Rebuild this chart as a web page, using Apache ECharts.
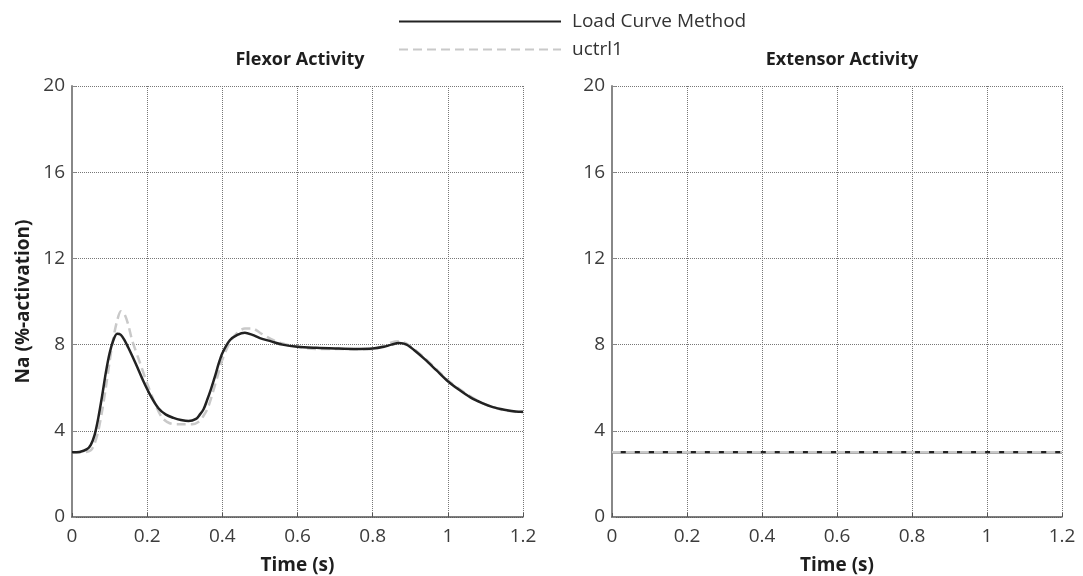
<!DOCTYPE html>
<html>
<head>
<meta charset="utf-8">
<script src="https://cdn.jsdelivr.net/npm/echarts@6/dist/echarts.min.js"></script>
<style>html,body{margin:0;padding:0;background:#fff}#c{width:1083px;height:576px}</style>
</head>
<body>
<div id="c"></div>
<script>
// Flexor activity: Load Curve Method
const flexLoadT = [0,0.02,0.04,0.05,0.06,0.07,0.08,0.09,0.10,0.11,0.12,0.13,0.14,0.15,0.17,0.19,0.21,0.23,0.25,0.27,0.29,0.31,0.33,0.34,0.35,0.36,0.37,0.38,0.39,0.40,0.42,0.44,0.46,0.48,0.50,0.53,0.56,0.60,0.65,0.70,0.75,0.80,0.83,0.85,0.87,0.89,0.91,0.94,0.97,1.00,1.03,1.06,1.09,1.12,1.15,1.18,1.20];
const flexLoadV = [3.0,3.02,3.15,3.35,3.8,4.6,5.6,6.7,7.6,8.2,8.5,8.45,8.2,7.85,7.1,6.3,5.6,5.05,4.75,4.6,4.5,4.45,4.55,4.75,5.0,5.45,5.95,6.5,7.1,7.6,8.2,8.45,8.55,8.45,8.3,8.15,8.0,7.9,7.85,7.82,7.8,7.82,7.9,8.0,8.07,8.0,7.75,7.3,6.8,6.3,5.9,5.55,5.3,5.1,4.98,4.9,4.88];
// Flexor activity: uctrl1
const flexUctrlT = [0,0.03,0.05,0.06,0.07,0.08,0.09,0.10,0.11,0.12,0.13,0.14,0.15,0.16,0.18,0.20,0.22,0.24,0.26,0.28,0.30,0.32,0.34,0.35,0.36,0.37,0.38,0.39,0.40,0.42,0.44,0.46,0.48,0.50,0.53,0.56,0.60,0.65,0.70,0.75,0.80,0.83,0.85,0.87,0.89,0.91,0.94,0.97,1.00,1.03,1.06,1.09,1.12,1.15,1.18,1.20];
const flexUctrlV = [3.0,3.0,3.1,3.4,4.0,4.9,6.0,7.2,8.3,9.1,9.55,9.4,8.9,8.2,7.2,6.2,5.3,4.6,4.35,4.3,4.3,4.3,4.45,4.7,5.0,5.5,6.1,6.7,7.3,8.1,8.55,8.75,8.75,8.55,8.25,8.05,7.9,7.8,7.8,7.78,7.8,7.95,8.1,8.15,8.05,7.8,7.35,6.85,6.35,5.95,5.6,5.3,5.1,4.95,4.88,4.85];
// Extensor activity
const extT = [0, 1.2];
const extLoadV = [3, 3];
const extUctrlV = [3, 3];
// axis ticks
const xTicks = [0, 0.2, 0.4, 0.6, 0.8, 1, 1.2];
const yTicks = [0, 4, 8, 12, 16, 20];

const zip = (a, b) => a.map((x, i) => [x, b[i]]);
const FONT = '"Open Sans", Lato, sans-serif';
const LOAD_COLOR = '#222';
const UCTRL_COLOR = '#c9c9c9';

function xAx(gi) {
  return {
    gridIndex: gi, type: 'value', min: 0, max: 1.2, interval: 0.2,
    name: 'Time (s)', nameLocation: 'middle', nameGap: 39,
    nameTextStyle: {fontFamily: FONT, fontWeight: 'bold', fontSize: 19, color: '#1e1e1e'},
    axisLine: {lineStyle: {color: '#555', width: 1.5}},
    axisTick: {inside: true, length: 4, lineStyle: {color: '#555'}},
    axisLabel: {fontFamily: FONT, fontSize: 19, color: '#3c3c3c', margin: 10,
      formatter: v => String(Math.round(v * 10) / 10)},
    splitLine: {show: true, lineStyle: {type: 'dotted', color: '#777', width: 1}}
  };
}
function yAx(gi, named) {
  return {
    gridIndex: gi, type: 'value', min: 0, max: 20, interval: 4,
    name: named ? 'Na (%-activation)' : '', nameLocation: 'middle', nameGap: 39,
    nameTextStyle: {fontFamily: FONT, fontWeight: 'bold', fontSize: 19, color: '#1e1e1e'},
    axisLine: {show: true, lineStyle: {color: '#888', width: 2}},
    axisTick: {show: true, inside: true, length: 4, lineStyle: {color: '#888'}},
    axisLabel: {fontFamily: FONT, fontSize: 19, color: '#3c3c3c', margin: 7},
    splitLine: {show: true, lineStyle: {type: 'dotted', color: '#777', width: 1}}
  };
}
function loadSeries(xi, data) {
  return {name: 'Load Curve Method', type: 'line', xAxisIndex: xi, yAxisIndex: xi,
    data: data, showSymbol: false, symbol: 'none', smooth: 0.3, z: 3,
    lineStyle: {color: LOAD_COLOR, width: 2.5}, itemStyle: {color: LOAD_COLOR}};
}
function uctrlSeries(xi, data) {
  return {name: 'uctrl1', type: 'line', xAxisIndex: xi, yAxisIndex: xi,
    data: data, showSymbol: false, symbol: 'none', smooth: 0.3, z: 2,
    lineStyle: {color: UCTRL_COLOR, width: 2.5, type: [9, 5]}, itemStyle: {color: UCTRL_COLOR}};
}

const chart = echarts.init(document.getElementById('c'), null, {renderer: 'canvas'});
chart.setOption({
  backgroundColor: '#fff',
  animation: false,
  title: [
    {text: 'Flexor Activity', left: 295, top: 46, textAlign: 'center',
      textStyle: {fontFamily: FONT, fontWeight: 'bold', fontSize: 18, color: '#1e1e1e'}},
    {text: 'Extensor Activity', left: 837, top: 46, textAlign: 'center',
      textStyle: {fontFamily: FONT, fontWeight: 'bold', fontSize: 18, color: '#1e1e1e'}}
  ],
  legend: {
    orient: 'vertical', left: 393, top: 7, itemWidth: 162, itemHeight: 14, itemGap: 9,
    data: ['Load Curve Method', 'uctrl1'],
    itemStyle: {opacity: 0},
    textStyle: {fontFamily: FONT, fontSize: 19, color: '#333', padding: [0, 0, 0, 6]}
  },
  grid: [
    {left: 72, top: 86, width: 451, height: 431, containLabel: false, outerBoundsMode: 'none'},
    {left: 612, top: 86, width: 450, height: 431, containLabel: false, outerBoundsMode: 'none'}
  ],
  xAxis: [xAx(0), xAx(1)],
  yAxis: [yAx(0, true), yAx(1, false)],
  series: [
    uctrlSeries(0, zip(flexUctrlT, flexUctrlV)),
    loadSeries(0, zip(flexLoadT, flexLoadV)),
    loadSeries(1, zip(extT, extLoadV)),
    Object.assign(uctrlSeries(1, zip(extT, extUctrlV)), {z: 4})
  ]
});
</script>
</body>
</html>
